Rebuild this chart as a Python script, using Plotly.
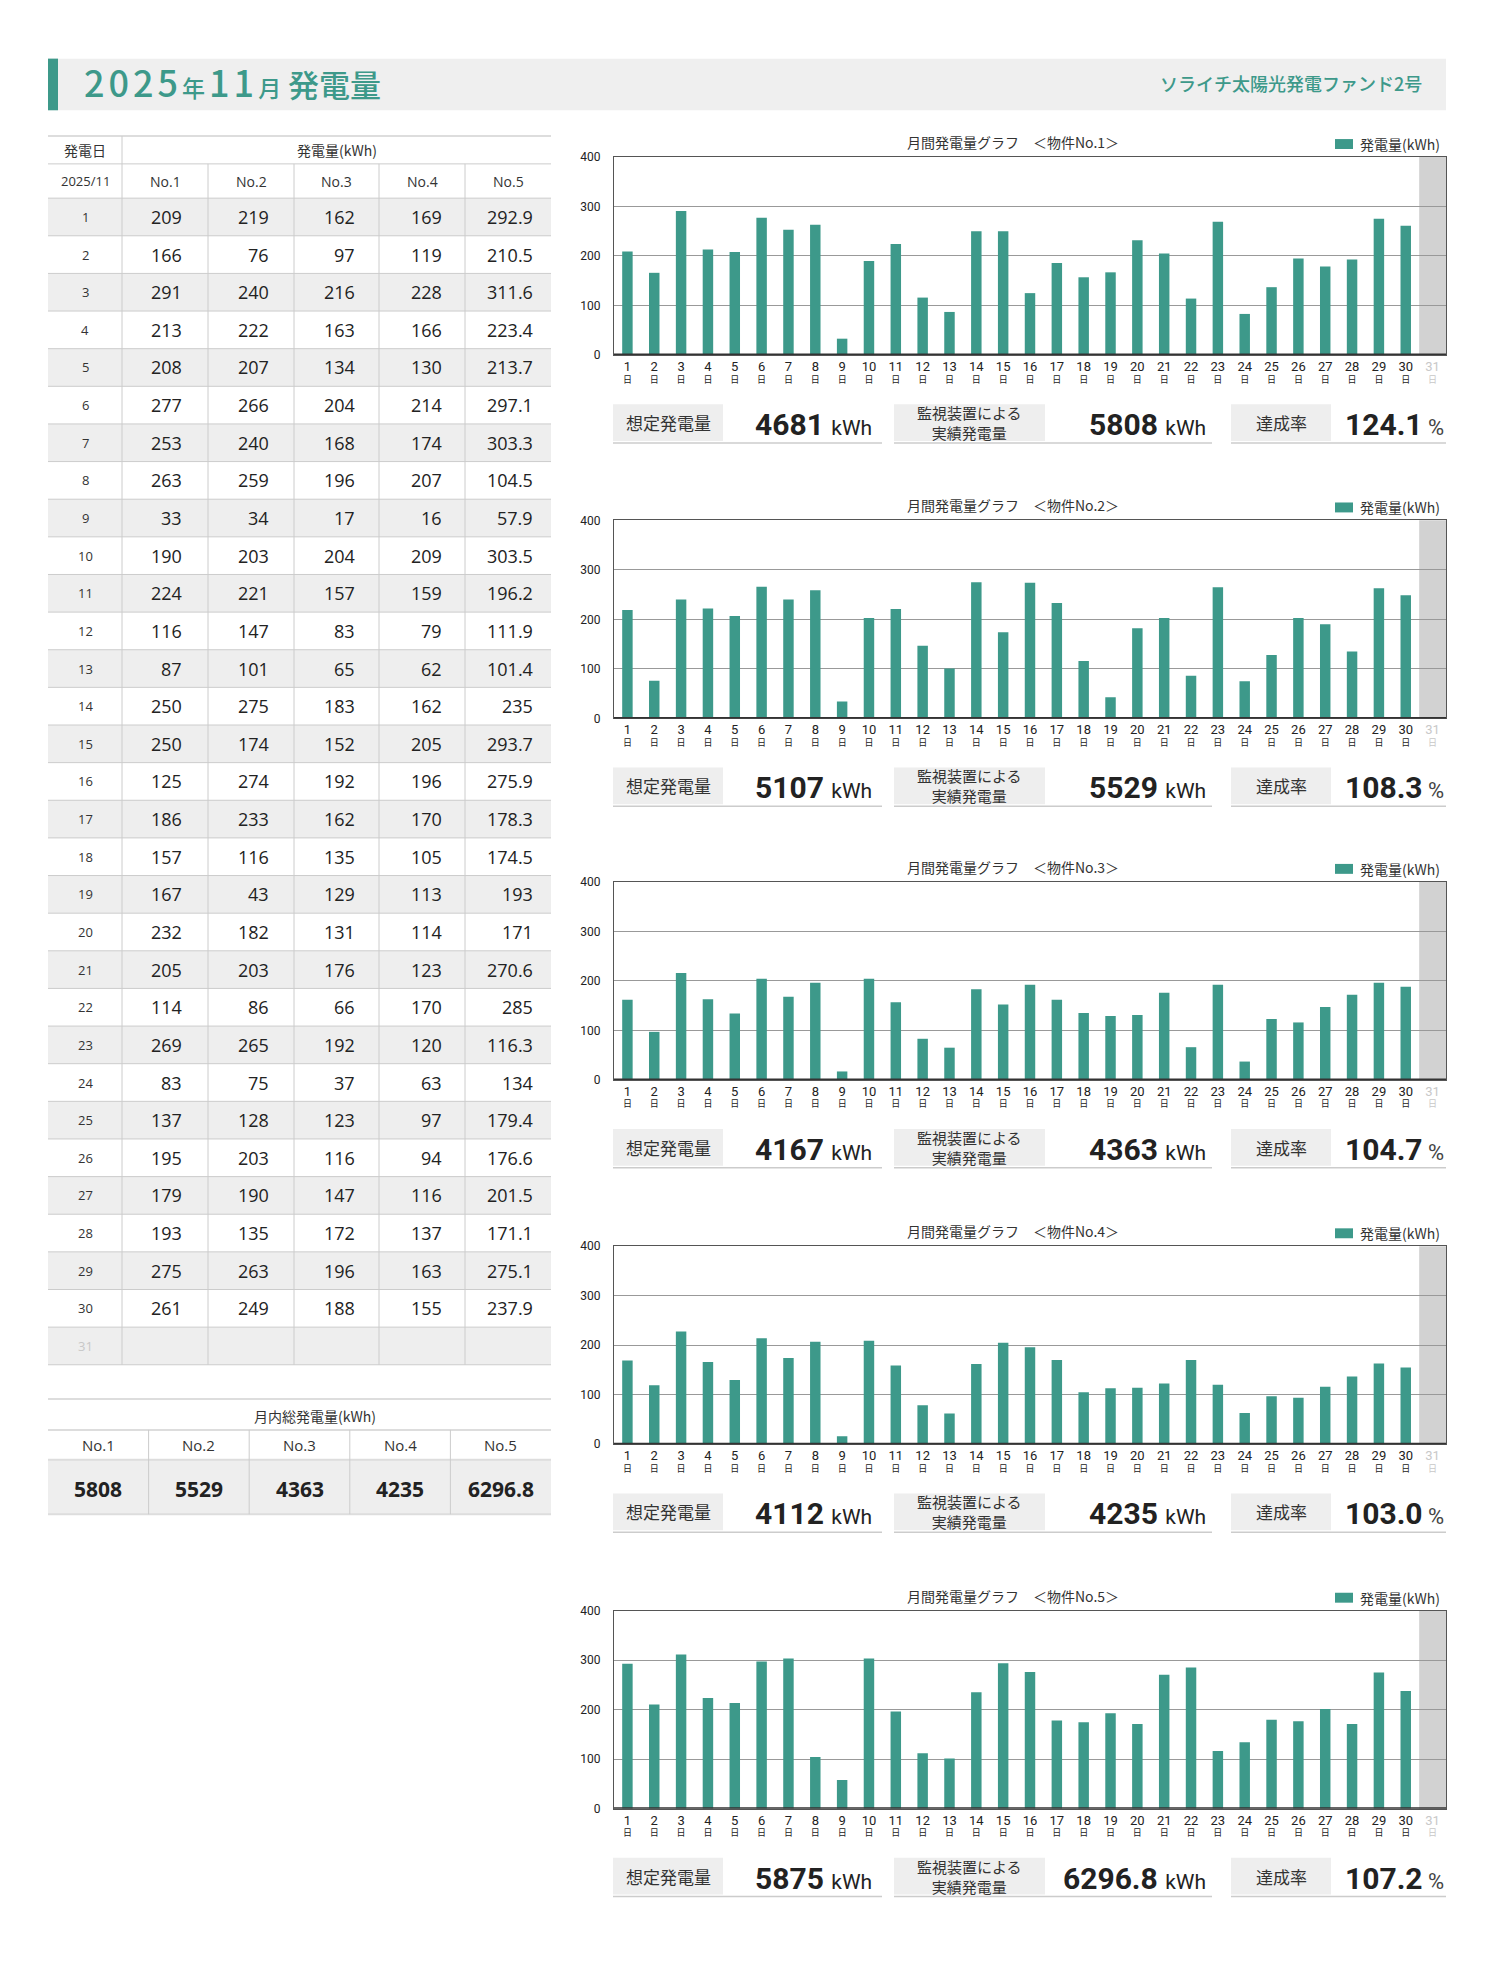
import plotly.graph_objects as go

# ---------------- data ----------------
days = list(range(1, 32))
no1 = [209, 166, 291, 213, 208, 277, 253, 263, 33, 190, 224, 116, 87, 250, 250, 125, 186, 157, 167, 232, 205, 114, 269, 83, 137, 195, 179, 193, 275, 261]
no2 = [219, 76, 240, 222, 207, 266, 240, 259, 34, 203, 221, 147, 101, 275, 174, 274, 233, 116, 43, 182, 203, 86, 265, 75, 128, 203, 190, 135, 263, 249]
no3 = [162, 97, 216, 163, 134, 204, 168, 196, 17, 204, 157, 83, 65, 183, 152, 192, 162, 135, 129, 131, 176, 66, 192, 37, 123, 116, 147, 172, 196, 188]
no4 = [169, 119, 228, 166, 130, 214, 174, 207, 16, 209, 159, 79, 62, 162, 205, 196, 170, 105, 113, 114, 123, 170, 120, 63, 97, 94, 116, 137, 163, 155]
no5 = [292.9, 210.5, 311.6, 223.4, 213.7, 297.1, 303.3, 104.5, 57.9, 303.5, 196.2, 111.9, 101.4, 235, 293.7, 275.9, 178.3, 174.5, 193, 171, 270.6, 285, 116.3, 134, 179.4, 176.6, 201.5, 171.1, 275.1, 237.9]
series = [no1, no2, no3, no4, no5]
names = ["No.1", "No.2", "No.3", "No.4", "No.5"]
totals = ["5808", "5529", "4363", "4235", "6296.8"]
expected = ["4681", "5107", "4167", "4112", "5875"]
actual = ["5808", "5529", "4363", "4235", "6296.8"]
rates = ["124.1", "108.3", "104.7", "103.0", "107.2"]
yticks = [0, 100, 200, 300, 400]

# ---------------- style ----------------
W, H = 1500, 1986
TEAL = "#3d998a"
GREY_FILL = "#eeeeee"
LINE = "#cccccc"
JP = "Noto Sans CJK JP"
NUM = "Open Sans, Noto Sans CJK JP"
NARROW = "Liberation Sans Narrow, Roboto, Noto Sans CJK JP"
BOLDNUM = "Roboto, Noto Sans CJK JP"


def px(x):
    return x / W


def py(y):
    return 1 - y / H


shapes = []
annotations = []


def rect(x0, y0, x1, y1, fill, line_w=0, line_c=None):
    shapes.append(dict(type="rect", xref="paper", yref="paper",
                       x0=px(x0), x1=px(x1), y0=py(y1), y1=py(y0),
                       fillcolor=fill, line=dict(width=line_w, color=line_c or fill), layer="below"))


def hline(x0, x1, y, color=LINE, w=1):
    shapes.append(dict(type="line", xref="paper", yref="paper",
                       x0=px(x0), x1=px(x1), y0=py(y), y1=py(y),
                       line=dict(color=color, width=w), layer="above"))


def vline(x, y0, y1, color=LINE, w=1):
    shapes.append(dict(type="line", xref="paper", yref="paper",
                       x0=px(x), x1=px(x), y0=py(y0), y1=py(y1),
                       line=dict(color=color, width=w), layer="above"))


def text(x, y, s, size, color="#333333", family=JP, xanchor="center", yanchor="middle", weight=None):
    f = dict(size=size, color=color, family=family)
    if weight:
        f["weight"] = weight
    annotations.append(dict(xref="paper", yref="paper", x=px(x), y=py(y), text=s,
                            showarrow=False, xanchor=xanchor, yanchor=yanchor, font=f))


# ---------------- header ----------------
rect(48, 52, 1446, 104, "#efefef")
rect(48, 52, 58, 104, TEAL)
text(82, 75,
     "<span style='font-size:36px;letter-spacing:4px'>2025</span><span style='font-size:23px;letter-spacing:4px'>年</span>"
     "<span style='font-size:36px;letter-spacing:4px'>11</span><span style='font-size:23px'>月</span>"
     "<span style='font-size:31px'> 発電量</span>",
     34, TEAL, JP, xanchor="left", weight=500)
text(1424, 77, "ソライチ太陽光発電ファンド2号", 18, TEAL, JP, xanchor="right", weight=500)

# ---------------- daily table ----------------
col_edges = [48, 122, 208, 294, 379, 465, 551]
pads = [24, 23, 22, 21, 16]
t_top, t_mid, d_top, row_h = 130, 158, 192.5, 37.9
n_rows = len(days)

for i in range(n_rows):
    y0 = d_top + i * row_h
    if i % 2 == 0:
        rect(col_edges[0], y0, col_edges[-1], y0 + row_h, GREY_FILL)

hline(col_edges[0], col_edges[-1], t_top, "#dddddd", 2)
hline(col_edges[0], col_edges[-1], t_mid, LINE, 1)
for i in range(n_rows + 1):
    hline(col_edges[0], col_edges[-1], d_top + i * row_h, LINE, 1)
vline(col_edges[1], t_top, d_top + n_rows * row_h)
for c in col_edges[2:-1]:
    vline(c, t_mid, d_top + n_rows * row_h)

text((col_edges[0] + col_edges[1]) / 2, (t_top + t_mid) / 2, "発電日", 14)
text((col_edges[1] + col_edges[-1]) / 2, (t_top + t_mid) / 2, "発電量(kWh)", 14)
text((col_edges[0] + col_edges[1]) / 2, (t_mid + d_top) / 2, "2025/11", 13, "#333333", NUM)
for j, nm in enumerate(names):
    text((col_edges[j + 1] + col_edges[j + 2]) / 2, (t_mid + d_top) / 2, nm, 14, "#333333", NUM)

for i, d in enumerate(days):
    yc = d_top + (i + 0.5) * row_h
    text((col_edges[0] + col_edges[1]) / 2, yc, str(d), 13,
         "#333333" if i < len(no1) else "#c8c8c8", NUM)
    if i < len(no1):
        for j, s in enumerate(series):
            v = s[i]
            txt = (f"{v:g}" if isinstance(v, float) else str(v))
            text(col_edges[j + 2] - pads[j], yc, txt, 18, "#222222", NUM, xanchor="right")

# ---------------- totals table ----------------
tt_top, tt_mid, tt_hdr, tt_bot = 1402, 1433, 1463, 1518
tcol = [48 + k * (551 - 48) / 5 for k in range(6)]
rect(tcol[0], tt_hdr, tcol[-1], tt_bot, GREY_FILL)
hline(tcol[0], tcol[-1], tt_top, "#dddddd", 2)
hline(tcol[0], tcol[-1], tt_mid, "#dddddd", 2)
hline(tcol[0], tcol[-1], tt_hdr, "#dddddd", 2)
hline(tcol[0], tcol[-1], tt_bot, "#dddddd", 2)
for c in tcol[1:-1]:
    vline(c, tt_mid, tt_bot)
text(315, (tt_top + tt_mid) / 2 + 1, "月内総発電量(kWh)", 14)
for j, nm in enumerate(names):
    xc = (tcol[j] + tcol[j + 1]) / 2
    text(xc, (tt_mid + tt_hdr) / 2, nm, 15, "#333333", NUM)
    text(xc, (tt_hdr + tt_bot) / 2 + 2, f"<b>{totals[j]}</b>", 21, "#222222", NUM)

# ---------------- bar charts ----------------
tops = [151, 517, 881, 1248, 1615]
plot_h = 199.5
x_left, x_right = 614, 1446

fig = go.Figure()
ticktext = [f"<span style='font-size:13px'>{d}</span><br>日" for d in days[:len(no1)]]
ticktext.append(f"<span style='font-size:13px;color:#c8c8c8'>{days[-1]}</span><br>"
                f"<span style='color:#c8c8c8'>日</span>")

layout_axes = {}
for k, s in enumerate(series):
    sfx = "" if k == 0 else str(k + 1)
    T = tops[k]
    fig.add_trace(go.Bar(x=days[:len(s)], y=s, marker=dict(color=TEAL, line=dict(width=0)),
                         xaxis="x" + sfx, yaxis="y" + sfx, showlegend=False,
                         hoverinfo="x+y"))
    layout_axes["xaxis" + sfx] = dict(
        domain=[px(x_left), px(x_right)], anchor="y" + sfx, range=[0.5, 31.5],
        tickmode="array", tickvals=days, ticktext=ticktext, showgrid=False,
        showline=True, mirror=True, linecolor="#555555", linewidth=1, ticks="",
        ticklabelstandoff=4,
        tickfont=dict(size=9, color="#222222", family=NARROW), zeroline=False,
        fixedrange=True)
    layout_axes["yaxis" + sfx] = dict(
        domain=[py(T + plot_h), py(T)], anchor="x" + sfx, range=[0, 400],
        tickmode="array", tickvals=yticks, showgrid=True, gridcolor="#999999", gridwidth=1,
        showline=True, mirror=True, linecolor="#555555", linewidth=1, ticks="",
        ticklabelstandoff=10, zeroline=False,
        tickfont=dict(size=12, color="#222222", family=NARROW), fixedrange=True)
    # day-31 grey column
    shapes.append(dict(type="rect", xref="x" + sfx, yref=f"y{sfx} domain",
                       x0=30.5, x1=31.5, y0=0, y1=1, fillcolor="#d2d2d2",
                       line=dict(width=0), layer="below"))
    # thick base line
    shapes.append(dict(type="line", xref=f"x{sfx} domain", yref="y" + sfx,
                       x0=0, x1=1, y0=0, y1=0, line=dict(color="#333333", width=3),
                       layer="above"))
    # title & legend
    text(1013, T - 15, f"月間発電量グラフ　＜物件{names[k]}＞", 14, "#333333")
    rect(1335, T - 18, 1353, T - 8, TEAL)
    text(1358, T - 13, "発電量(kWh)", 14, "#333333", xanchor="left")
    # summary row
    yb0, yb1 = T + 249, T + 286
    yc = (yb0 + yb1) / 2
    rect(613, yb0, 723, yb1, GREY_FILL)
    rect(894, yb0, 1045, yb1, GREY_FILL)
    rect(1231, yb0, 1331, yb1, GREY_FILL)
    hline(613, 882, yb1 + 2, LINE, 1.5)
    hline(894, 1212, yb1 + 2, LINE, 1.5)
    hline(1231, 1446, yb1 + 2, LINE, 1.5)
    text(668, yc, "想定発電量", 17, "#333333")
    text(969, yc, "監視装置による<br>実績発電量", 15, "#333333")
    text(1281, yc, "達成率", 17, "#333333")
    text(874, yc + 2, f"<b>{expected[k]}</b> <span style='font-size:21px'>kWh</span>",
         30, "#222222", BOLDNUM, xanchor="right")
    text(1208, yc + 2, f"<b>{actual[k]}</b> <span style='font-size:21px'>kWh</span>",
         30, "#222222", BOLDNUM, xanchor="right")
    text(1446, yc + 2, f"<b>{rates[k]}</b><span style='font-size:22px;color:#444444'> %</span>",
         30, "#222222", BOLDNUM, xanchor="right")

fig.update_layout(
    width=W, height=H, autosize=False,
    margin=dict(l=0, r=0, t=0, b=0),
    paper_bgcolor="white", plot_bgcolor="white",
    bargap=0.61, shapes=shapes, annotations=annotations,
    font=dict(family=JP, color="#333333"),
    **layout_axes,
)

POST = (
    "document.documentElement.style.margin='0';"
    "document.body.style.margin='0';document.body.style.padding='0';"
)
fig.write_html("out.html", post_script=POST, config={"displayModeBar": False})
